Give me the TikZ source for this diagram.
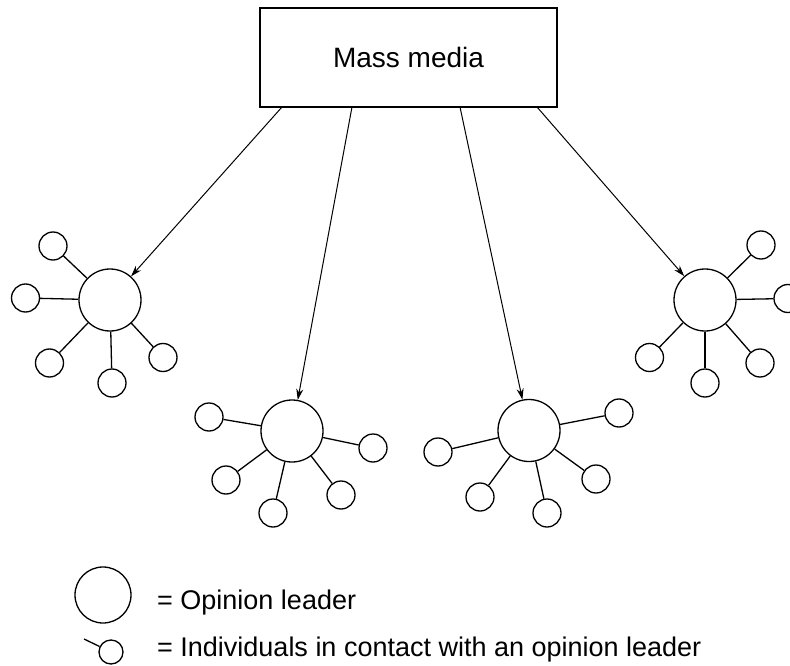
\documentclass[tikz,border=0pt]{standalone}
\usepackage{fontspec}
\setmainfont{Liberation Sans}
\usetikzlibrary{arrows.meta}
\begin{document}
\begin{tikzpicture}[x=1pt,y=-1pt,
  leader/.style={circle,draw,line width=1.3pt,minimum size=62pt,inner sep=0pt},
  indiv/.style={circle,draw,line width=1.3pt,minimum size=28pt,inner sep=0pt},
  spoke/.style={line width=1.3pt},
  flow/.style={line width=1pt,-{Stealth[length=11pt,width=7pt]}},
  mediabox/.style={draw,line width=1.3pt,minimum width=297pt,minimum height=99pt,inner sep=0pt,font=\fontsize{28}{33}\selectfont},
  legtext/.style={anchor=west,inner sep=0pt,font=\fontsize{27}{32}\selectfont}]
\useasboundingbox (0,0) rectangle (790,666);
\clip (0,0) rectangle (790,666);
\fill[white] (0,0) rectangle (790,666);

% mass media box
\node[mediabox] (mm) at (408.5,57.5) {Mass media};
\coordinate (s1) at (282,107);
\coordinate (s2) at (352,107);
\coordinate (s3) at (460,107);
\coordinate (s4) at (537,107);

% cluster 1
\node[leader] (L1) at (110,300) {};
\node[indiv] (L1a) at (53,246) {};
\node[indiv] (L1b) at (25.5,298) {};
\node[indiv] (L1c) at (49.5,363) {};
\node[indiv] (L1d) at (112,383) {};
\node[indiv] (L1e) at (163,357.5) {};
\foreach \n in {a,b,c,d,e} \draw[spoke] (L1) -- (L1\n);

% cluster 2
\node[leader] (L2) at (292,431) {};
\node[indiv] (L2a) at (209,417) {};
\node[indiv] (L2b) at (226,480) {};
\node[indiv] (L2c) at (273,513) {};
\node[indiv] (L2d) at (341,495) {};
\node[indiv] (L2e) at (373,448) {};
\foreach \n in {a,b,c,d,e} \draw[spoke] (L2) -- (L2\n);

% cluster 3
\node[leader] (L3) at (529,430.5) {};
\node[indiv] (L3a) at (438,452) {};
\node[indiv] (L3b) at (480,497) {};
\node[indiv] (L3c) at (547,513) {};
\node[indiv] (L3d) at (596,479) {};
\node[indiv] (L3e) at (619,413) {};
\foreach \n in {a,b,c,d,e} \draw[spoke] (L3) -- (L3\n);

% cluster 4
\node[leader] (L4) at (705,300) {};
\node[indiv] (L4a) at (761,245) {};
\node[indiv] (L4b) at (788,298.5) {};
\node[indiv] (L4c) at (760,363) {};
\node[indiv] (L4d) at (705,383) {};
\node[indiv] (L4e) at (649.5,357.5) {};
\foreach \n in {a,b,c,d,e} \draw[spoke] (L4) -- (L4\n);

% arrows
\draw[flow] (s1) -- (L1);
\draw[flow] (s2) -- (L2);
\draw[flow] (s3) -- (L3);
\draw[flow] (s4) -- (L4);

% legend
\node[leader,minimum size=56pt] (lg1) at (103,595) {};
\node[legtext] (lt1) at (157,603) {= Opinion leader};
\node[indiv,minimum size=24pt] (lg2) at (111,652) {};
\coordinate (lg2end) at (84,639);
\draw[spoke] (lg2end) -- (lg2);
\node[legtext] (lt2) at (157,650) {= Individuals in contact with an opinion leader};
\end{tikzpicture}
\end{document}
